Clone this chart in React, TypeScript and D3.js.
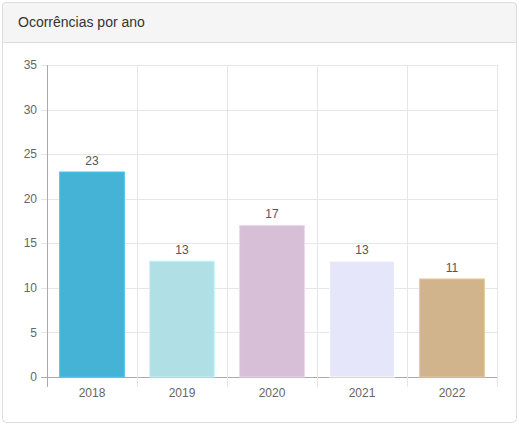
import React, { useEffect, useRef } from "react";
import * as d3 from "d3";

const years = ["2018", "2019", "2020", "2021", "2022"];
const counts = [23, 13, 17, 13, 11];
const barColors = ["#45b3d6", "#b0e0e6", "#d8bfd8", "#e6e6fa", "#d2b48c"];
const yTicks = [0, 5, 10, 15, 20, 25, 30, 35];

const W = 519;
const H = 430;

export default function App() {
  const svgRef = useRef<SVGSVGElement | null>(null);

  useEffect(() => {
    if (!svgRef.current) return;
    const svg = d3.select(svgRef.current);
    svg.selectAll("*").remove();

    const font = "'Liberation Sans', Arial, sans-serif";

    // card
    svg
      .append("rect")
      .attr("x", 2.5)
      .attr("y", 2.5)
      .attr("width", 514)
      .attr("height", 420)
      .attr("rx", 4)
      .attr("fill", "#fff")
      .attr("stroke", "#dddddd");

    svg
      .append("path")
      .attr("d", "M2.5,42.5 V6.5 a4,4 0 0 1 4,-4 H512.5 a4,4 0 0 1 4,4 V42.5 Z")
      .attr("fill", "#f5f5f5")
      .attr("stroke", "#dddddd");

    svg
      .append("text")
      .attr("x", 18)
      .attr("y", 27)
      .attr("font-family", font)
      .attr("font-size", 14)
      .attr("fill", "#333")
      .text("Ocorrências por ano");

    const left = 47;
    const right = 497;
    const top = 65;
    const bottom = 377;

    const x = d3.scaleBand<string>().domain(years).range([left, right]);
    const y = d3.scaleLinear().domain([0, 35]).range([bottom, top]);

    const g = svg.append("g");

    // horizontal grid
    g.selectAll(".hg")
      .data(yTicks)
      .enter()
      .append("line")
      .attr("x1", left - 6)
      .attr("x2", right)
      .attr("y1", (d) => Math.round(y(d)) + 0.5)
      .attr("y2", (d) => Math.round(y(d)) + 0.5)
      .attr("stroke", (d) => (d === 0 ? "#aaaaaa" : "#e6e6e6"));

    // vertical grid
    const vx = years.map((d) => x(d) as number).concat([right]);
    g.selectAll(".vg")
      .data(vx)
      .enter()
      .append("line")
      .attr("x1", (d) => Math.round(d) + 0.5)
      .attr("x2", (d) => Math.round(d) + 0.5)
      .attr("y1", top)
      .attr("y2", bottom + 10)
      .attr("stroke", (d, i) => (i === 0 ? "#aaaaaa" : "#e6e6e6"));

    // y labels
    g.selectAll(".yl")
      .data(yTicks)
      .enter()
      .append("text")
      .attr("x", left - 10)
      .attr("y", (d) => y(d))
      .attr("dy", "0.35em")
      .attr("text-anchor", "end")
      .attr("font-family", font)
      .attr("font-size", 12)
      .attr("fill", "#666")
      .text((d) => d);

    // x labels
    g.selectAll(".xl")
      .data(years)
      .enter()
      .append("text")
      .attr("x", (d) => (x(d) as number) + x.bandwidth() / 2)
      .attr("y", bottom + 20)
      .attr("text-anchor", "middle")
      .attr("font-family", font)
      .attr("font-size", 12)
      .attr("fill", "#666")
      .text((d) => d);

    const bw = x.bandwidth() * 0.72;

    g.selectAll(".bar")
      .data(counts)
      .enter()
      .append("rect")
      .attr("x", (d, i) => (x(years[i]) as number) + (x.bandwidth() - bw) / 2)
      .attr("y", (d) => y(d))
      .attr("width", bw)
      .attr("height", (d) => bottom - y(d))
      .attr("fill", (d, i) => barColors[i])
      .attr("stroke", (d, i) => d3.color(barColors[i])!.brighter(0.3).formatHex())
      .attr("stroke-width", 1);

    // value labels
    g.selectAll(".vl")
      .data(counts)
      .enter()
      .append("text")
      .attr("x", (d, i) => (x(years[i]) as number) + x.bandwidth() / 2)
      .attr("y", (d) => y(d) - 7)
      .attr("text-anchor", "middle")
      .attr("font-family", font)
      .attr("font-size", 12)
      .attr("fill", "#555")
      .text((d) => d);
  }, []);

  return (
    <svg
      ref={svgRef}
      width={W}
      height={H}
      style={{ position: "absolute", left: 0, top: 0, background: "#fff" }}
    />
  );
}
